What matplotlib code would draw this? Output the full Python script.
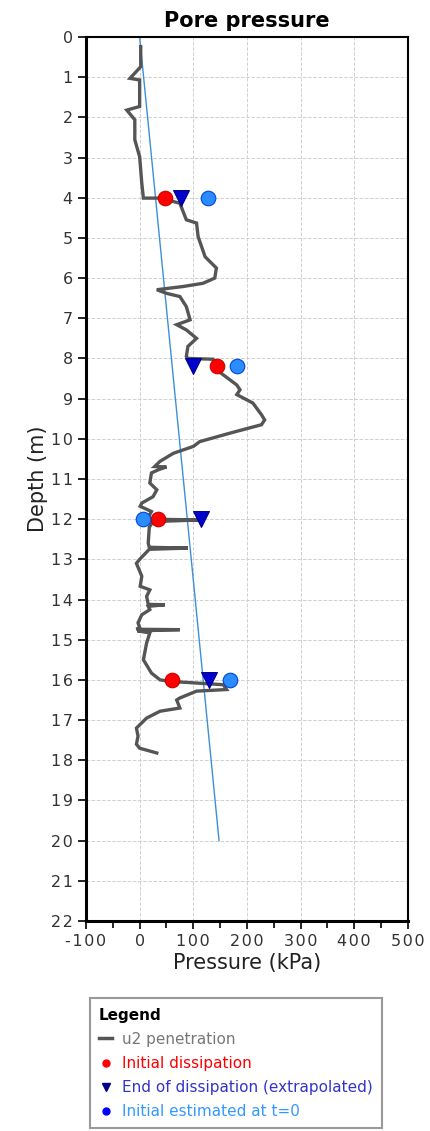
import matplotlib.pyplot as plt
import numpy as np
from matplotlib.lines import Line2D
from matplotlib.ticker import FuncFormatter

# u2 penetration trace (kPa vs depth m)
u2_depth = [0.24, 0.74, 1.03, 1.07, 1.73, 1.82, 2.06, 2.56, 2.98, 3.64, 4.01,
            4.01, 4.14, 4.55, 4.63, 4.97, 5.47, 5.75, 6.0, 6.13, 6.21, 6.29,
            6.38, 6.46, 6.71, 7.04, 7.16, 7.29, 7.5, 7.7, 7.95, 8.0, 8.02,
            8.28, 8.66, 8.78, 8.9, 9.11, 9.4, 9.53, 9.65, 9.86, 10.07, 10.19,
            10.36, 10.56, 10.69, 10.7, 10.77, 10.85, 11.1, 11.27, 11.44, 11.6,
            11.68, 11.81, 11.93, 12.0, 12.02, 12.06, 12.2, 12.6, 12.7, 12.72,
            12.75, 13.0, 13.1, 13.42, 13.67, 13.76, 13.92, 14.12, 14.13, 14.17,
            14.25, 14.38, 14.58, 14.7, 14.74, 14.75, 14.78, 14.83, 15.08, 15.5,
            15.83, 16.0, 16.04, 16.12, 16.24, 16.28, 16.45, 16.5, 16.7, 16.78,
            16.95, 17.2, 17.4, 17.6, 17.7, 17.82]
u2_kpa = [2, 2, -18, 0, 0, -24, -9, -9, 0, 4, 7,
          40, 75, 87, 106, 109, 122, 143, 140, 118, 81, 32,
          50, 75, 87, 94, 69, 87, 106, 90, 87, 90, 137,
          143, 181, 187, 181, 211, 227, 233, 227, 168, 112, 100,
          63, 38, 28, 50, 35, 22, 19, 32, 25, 4,
          1, 22, 17, 20, 112, 25, 18, 16, 18, 90,
          18, 0, -6, 4, 1, 19, 13, 16, 47, 16,
          19, 4, -3, 0, -6, 75, -4, 19, 13, 7,
          22, 38, 60, 156, 162, 106, 75, 69, 75, 38,
          13, -6, -3, -6, 0, 32]

# hydrostatic line
hydro_depth = [0, 20]
hydro_kpa = [0, 148]

# dissipation tests
test_depth = [4.0, 8.2, 12.0, 16.0]
initial_kpa = [47, 144, 35, 61]
end_kpa = [78, 99, 114, 130]
t0_kpa = [127, 182, 7, 169]

plt.rcParams['font.family'] = ['DejaVu Sans']
plt.rcParams['axes.unicode_minus'] = False


def spaced(v, pos):
    # the original tick labels are letter-spaced
    return '\u200a'.join('%d' % v)


fig = plt.figure(figsize=(4.31, 11.31), dpi=100)
ax = fig.add_axes([0.1995, 0.1857, 0.747, 0.7816])

ax.plot(hydro_kpa, hydro_depth, color='#3d8fd6', lw=1.0, zorder=2)
ax.plot(u2_kpa, u2_depth, color='#555555', lw=2.4, zorder=3,
        solid_joinstyle='miter')
ax.scatter(initial_kpa, test_depth, s=110, color='#ff0000',
           edgecolor='#cc0000', lw=0.8, zorder=5)
ax.scatter(end_kpa, test_depth, s=130, marker='v', color='#0000cc',
           edgecolor='#000088', lw=0.8, zorder=5)
ax.scatter(t0_kpa, test_depth, s=110, color='#2a8cff',
           edgecolor='#0044dd', lw=0.8, zorder=5)

ax.set_xlim(-100, 500)
ax.set_ylim(22, 0)
ax.set_xticks(np.arange(-100, 501, 100))
ax.set_xticks(np.arange(-100, 501, 50), minor=True)
ax.set_yticks(np.arange(0, 23, 1))
ax.xaxis.set_major_formatter(FuncFormatter(spaced))
ax.yaxis.set_major_formatter(FuncFormatter(spaced))
ax.grid(True, color='#d0d0d0', ls='--', lw=0.7)
ax.tick_params(axis='both', which='both', direction='out', length=6,
               width=1.2, labelsize=11.5, colors='black', labelcolor='#333333')
ax.tick_params(axis='x', which='minor', length=5)
for sp in ax.spines.values():
    sp.set_linewidth(1.5)
ax.spines['left'].set_linewidth(2.2)
ax.spines['bottom'].set_linewidth(2.2)

ax.set_title('Pore pressure', fontsize=15, fontweight='bold', pad=7)
ax.set_xlabel('Pressure (kPa)', fontsize=15, color='#222222', labelpad=3)
ax.set_ylabel('Depth (m)', fontsize=15, color='#222222', labelpad=2)

handles = [
    Line2D([], [], color='#555555', lw=2.5),
    Line2D([], [], color='#ff0000', marker='o', ls='none', markersize=5),
    Line2D([], [], color='#000088', marker='v', ls='none', markersize=6),
    Line2D([], [], color='#0000ff', marker='o', ls='none', markersize=5),
]
labels = ['u2 penetration', 'Initial dissipation',
          'End of dissipation (extrapolated)', 'Initial estimated at t=0']
leg = fig.legend(handles, labels, loc='upper left',
                 bbox_to_anchor=(0.19, 0.124), title='Legend',
                 alignment='left', fontsize=11, handlelength=0.9,
                 handletextpad=0.6, labelspacing=0.6, borderpad=0.6,
                 fancybox=False, edgecolor='#999999', framealpha=1,
                 labelcolor=['#777777', '#ff0000', '#3333cc', '#3399ff'])
leg.get_title().set_fontweight('bold')
leg.get_title().set_fontsize(11)
leg.get_frame().set_linewidth(1.5)

fig.savefig('out.png', dpi=100)
